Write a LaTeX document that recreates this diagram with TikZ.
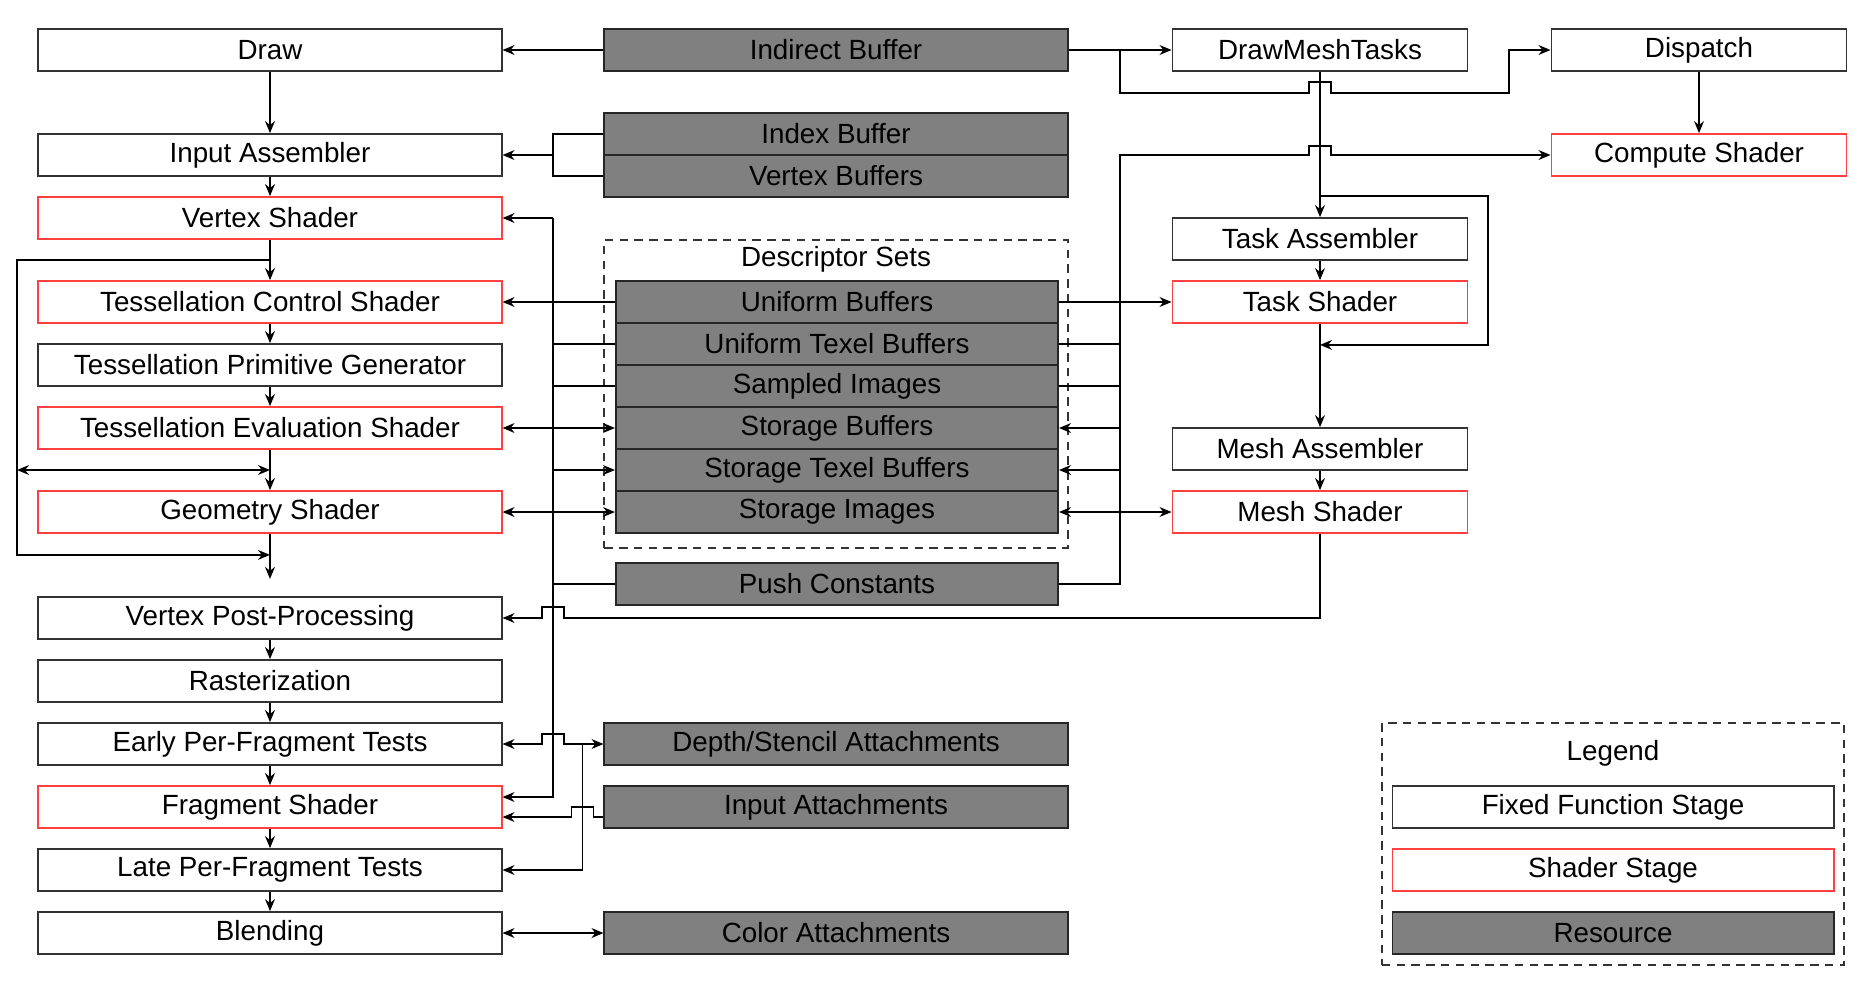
\documentclass[tikz,border=0pt]{standalone}
\usepackage{fontspec}
\setmainfont{Liberation Sans}
\usetikzlibrary{arrows.meta,calc}

\definecolor{shaderred}{RGB}{255,64,64}
\tikzstyle{stage}=[draw=black!80,fill=white,line width=0.5pt,inner sep=0pt,minimum height=0.42cm,minimum width=4.63cm]
\tikzstyle{shader}=[stage,draw=shaderred]
\tikzstyle{res}=[stage,draw=black!85,fill=black!50]
\tikzstyle{slim}=[minimum width=2.95cm]
\tikzstyle{frame}=[draw=black!80,line width=0.5pt,dash pattern=on 2.4pt off 1.8pt,inner sep=0pt]
\tikzstyle{wire}=[line width=0.45pt]
\tikzstyle{conn}=[wire,-{Stealth[length=3.4pt,width=2.8pt,inset=1.1pt]}]
\tikzstyle{conn2}=[wire,{Stealth[length=3.4pt,width=2.8pt,inset=1.1pt]}-{Stealth[length=3.4pt,width=2.8pt,inset=1.1pt]}]

\begin{document}
\begin{tikzpicture}[x=0.01cm,y=-0.01cm,font=\fontsize{7.9pt}{9pt}\selectfont]

   \useasboundingbox (0,0) rectangle (1870,984);

   % Graphics pipeline

   \node[stage] (draw) at (270,50) {Draw};
   \node[stage] (ia) at (270,155) {Input Assembler};
   \node[shader] (vs) at (270,218) {Vertex Shader};
   \node[shader] (tcs) at (270,302) {Tessellation Control Shader};
   \node[stage] (tpg) at (270,365) {Tessellation Primitive Generator};
   \node[shader] (tes) at (270,428) {Tessellation Evaluation Shader};
   \node[shader] (gs) at (270,512) {Geometry Shader};
   \node[stage] (vpp) at (270,618) {Vertex Post-Processing};
   \node[stage] (rast) at (270,681) {Rasterization};
   \node[stage] (epf) at (270,744) {Early Per-Fragment Tests};
   \node[shader] (fs) at (270,807) {Fragment Shader};
   \node[stage] (lpf) at (270,870) {Late Per-Fragment Tests};
   \node[stage] (blend) at (270,933) {Blending};

   % Resources

   \node[res] (ib) at (836,50) {Indirect Buffer};
   \node[res] (idx) at (836,134) {Index Buffer};
   \node[res] (vb) at (836,176) {Vertex Buffers};

   \node[frame,minimum width=4.63cm,minimum height=3.08cm] (dsets) at (836,394) {};
   \node (dstitle) at (836,259) {Descriptor Sets};
   \node[res,minimum width=4.42cm] (ub) at (837,302) {Uniform Buffers};
   \node[res,minimum width=4.42cm] (utb) at (837,344) {Uniform Texel Buffers};
   \node[res,minimum width=4.42cm] (si) at (837,386) {Sampled Images};
   \node[res,minimum width=4.42cm] (sb) at (837,428) {Storage Buffers};
   \node[res,minimum width=4.42cm] (stb) at (837,470) {Storage Texel Buffers};
   \node[res,minimum width=4.42cm] (simg) at (837,512) {Storage Images};
   \node[res,minimum width=4.42cm] (pc) at (837,584) {Push Constants};

   \node[res] (ds) at (836,744) {Depth/Stencil Attachments};
   \node[res] (iatt) at (836,807) {Input Attachments};
   \node[res] (ca) at (836,933) {Color Attachments};

   % Mesh and compute

   \node[stage,slim] (dmt) at (1320,50) {DrawMeshTasks};
   \node[stage,slim] (ta) at (1320,239) {Task Assembler};
   \node[shader,slim] (ts) at (1320,302) {Task Shader};
   \node[stage,slim] (ma) at (1320,449) {Mesh Assembler};
   \node[shader,slim] (ms) at (1320,512) {Mesh Shader};
   \node[stage,slim] (disp) at (1699,50) {Dispatch};
   \node[shader,slim] (cs) at (1699,155) {Compute Shader};

   % Legend

   \node[frame,minimum width=4.62cm,minimum height=2.42cm] (lgd) at (1613,844) {};
   \node (lgdtitle) at (1613,753) {Legend};
   \node[stage,minimum width=4.41cm] (lfixed) at (1613,807) {Fixed Function Stage};
   \node[shader,minimum width=4.41cm] (lshader) at (1613,870) {Shader Stage};
   \node[res,minimum width=4.41cm] (lres) at (1613,933) {Resource};

   % Junctions

   \coordinate (busL) at (553,0);
   \coordinate (busR) at (1120,50);
   \coordinate (br1) at ($(busR)+(0,43)$);
   \coordinate (byp) at (17,0);
   \coordinate (vsout) at ($(vs.south)!0.5!(tcs.north)$);
   \coordinate (tesout) at ($(tes.south)!0.5!(gs.north)$);
   \coordinate (gsout) at ($(gs.south)+(0,21)$);
   \coordinate (gsend) at ($(gs.south)+(0,45)$);
   \coordinate (tabyp) at ($(ta.north)+(0,-21)$);
   \coordinate (tsout) at ($(ts.south)+(0,21)$);
   \coordinate (fsin) at ($(fs.east)+(0,-10)$);
   \coordinate (fsin2) at ($(fs.east)+(0,10)$);
   \coordinate (iain) at ($(iatt.west)+(0,10)$);
   \coordinate (dsj) at ($(ds.west)+(-21,0)$);

   % Pipeline flow

   \draw[conn] (draw) -- (ia);
   \draw[conn] (ia) -- (vs);
   \draw[conn] (vs) -- (tcs);
   \draw[conn] (tcs) -- (tpg);
   \draw[conn] (tpg) -- (tes);
   \draw[conn] (tes) -- (gs);
   \draw[conn] (gs.south) -- (gsend);
   \draw[conn] (vsout) -- (vsout -| byp) -- (byp |- gsout) -- (gsout);
   \draw[conn2] (byp |- tesout) -- (tesout);
   \draw[conn] (vpp) -- (rast);
   \draw[conn] (rast) -- (epf);
   \draw[conn] (epf) -- (fs);
   \draw[conn] (fs) -- (lpf);
   \draw[conn] (lpf) -- (blend);

   \draw[conn] (dmt) -- (ta);
   \draw[conn] (ta) -- (ts);
   \draw[conn] (ts) -- (ma);
   \draw[conn] (ma) -- (ms);
   \draw[conn] (tabyp) -- ++(168,0) |- (tsout);
   \draw[conn] (disp) -- (cs);

   % Buffers

   \draw[conn] (ib.west) -- (draw.east);
   \draw[conn] (ib.east) -- (dmt.west);
   \draw[conn] (busR) -- (br1) -- ($(br1 -| dmt.south)+(-11,0)$) -- ++(0,-11) -- ++(22,0) -- ++(0,11) -- ++(178,0) |- (disp.west);
   \draw[wire] (idx.west) -| (busL |- vb.west) -- (vb.west);
   \draw[conn] (busL |- ia.east) -- (ia.east);

   % Descriptor bus, left

   \draw[conn] (busL |- vs.east) -- (vs.east);
   \draw[conn] (busL |- vs.east) |- (fsin);
   \draw[conn] (ub.west) -- (tcs.east);
   \draw[wire] (utb.west) -- (utb.west -| busL);
   \draw[wire] (si.west) -- (si.west -| busL);
   \draw[conn2] (tes.east) -- (sb.west);
   \draw[conn] (stb.west -| busL) -- (stb.west);
   \draw[conn2] (gs.east) -- (simg.west);
   \draw[wire] (pc.west) -- (pc.west -| busL);

   % Descriptor bus, right

   \draw[conn] (ub.east) -- (ts.west);
   \draw[wire] (utb.east) -- (utb.east -| busR);
   \draw[wire] (si.east) -- (si.east -| busR);
   \draw[conn] (sb.east -| busR) -- (sb.east);
   \draw[conn] (stb.east -| busR) -- (stb.east);
   \draw[conn2] (simg.east) -- (ms.west);
   \draw[conn] (pc.east) -| (busR |- cs.west) -- ($(cs.west -| dmt.south)+(-11,0)$) -- ++(0,-9) -- ++(22,0) -- ++(0,9) -- (cs.west);

   \draw[conn] (ms.south) -- (ms.south |- vpp.east) -- ($(vpp.east -| busL)+(11,0)$) -- ++(0,-11) -- ++(-22,0) -- ++(0,11) -- (vpp.east);

   % Attachments

   \draw[conn2] (epf.east) -- ($(epf.east -| busL)+(-11,0)$) -- ++(0,-10) -- ++(22,0) -- ++(0,10) -- (ds.west);
   \draw[conn] (dsj) |- (lpf.east);
   \draw[conn] (iain) -- ($(iain -| dsj)+(11,0)$) -- ++(0,-10) -- ++(-22,0) -- ++(0,10) -- (fsin2);
   \draw[conn2] (blend.east) -- (ca.west);

\end{tikzpicture}
\end{document}
